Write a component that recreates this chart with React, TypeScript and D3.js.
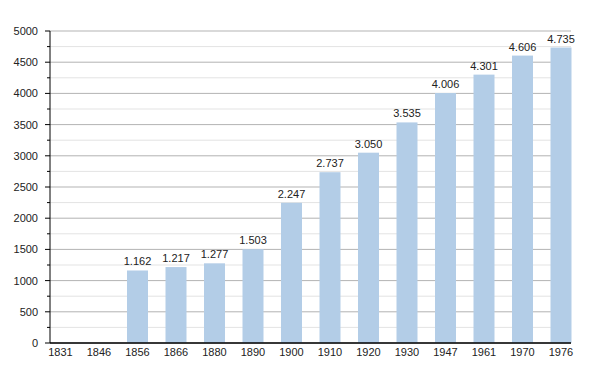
import * as d3 from "d3";

const years = ["1831", "1846", "1856", "1866", "1880", "1890", "1900", "1910", "1920", "1930", "1947", "1961", "1970", "1976"];
const population: (number | null)[] = [null, null, 1162, 1217, 1277, 1503, 2247, 2737, 3050, 3535, 4006, 4301, 4606, 4735];
const majorTicks = [0, 500, 1000, 1500, 2000, 2500, 3000, 3500, 4000, 4500, 5000];
const minorTicks = [250, 750, 1250, 1750, 2250, 2750, 3250, 3750, 4250, 4750];

const width = 600;
const height = 373;
const left = 50;
const plotRight = 571;
const top = 31;
const bottom = 343;

const fmt = d3.formatLocale({ decimal: ",", thousands: ".", grouping: [3], currency: ["", ""] }).format(",d");

export default function App() {
  const x = d3.scaleBand<string>().domain(years).range([left, left + 14 * 38.5]).padding(0);
  const y = d3.scaleLinear().domain([0, 5000]).range([bottom, top]);
  const barW = 21;
  const font = "'Liberation Sans', Arial, sans-serif";

  return (
    <svg width={width} height={height} style={{ position: "absolute", left: 0, top: 0 }} fontFamily={font}>
      <rect width={width} height={height} fill="#fff" />
      {minorTicks.map((t) => (
        <line key={"m" + t} x1={left} x2={plotRight} y1={y(t)} y2={y(t)} stroke="#e3e3e3" />
      ))}
      {majorTicks.map((t) => (
        <line key={"g" + t} x1={left} x2={plotRight} y1={y(t)} y2={y(t)} stroke="#b3b3b3" />
      ))}
      {years.map((yr, i) => {
        const v = population[i];
        const x0 = x(yr)!;
        return (
          <g key={yr}>
            {v != null && (
              <>
                <rect x={x0} y={y(v)} width={barW} height={bottom - y(v)} fill="#b3cde7" />
                <text x={x0 + barW / 2} y={y(v) - 5} textAnchor="middle" fontSize={11} fill="#222">
                  {fmt(v)}
                </text>
              </>
            )}
            <text x={x0 + barW / 2} y={bottom + 13} textAnchor="middle" fontSize={11} fill="#222">
              {yr}
            </text>
          </g>
        );
      })}
      {majorTicks.map((t) => (
        <g key={"t" + t}>
          <line x1={left - 5} x2={left} y1={y(t)} y2={y(t)} stroke="#000" />
          <text x={38} y={y(t) + 4} textAnchor="end" fontSize={11} fill="#222">
            {t}
          </text>
        </g>
      ))}
      {minorTicks.map((t) => (
        <line key={"mt" + t} x1={left - 3} x2={left} y1={y(t)} y2={y(t)} stroke="#000" />
      ))}
      <line x1={left} x2={left} y1={top} y2={bottom} stroke="#000" />
      <line x1={left} x2={plotRight} y1={bottom} y2={bottom} stroke="#000" strokeWidth={1.5} />
    </svg>
  );
}
